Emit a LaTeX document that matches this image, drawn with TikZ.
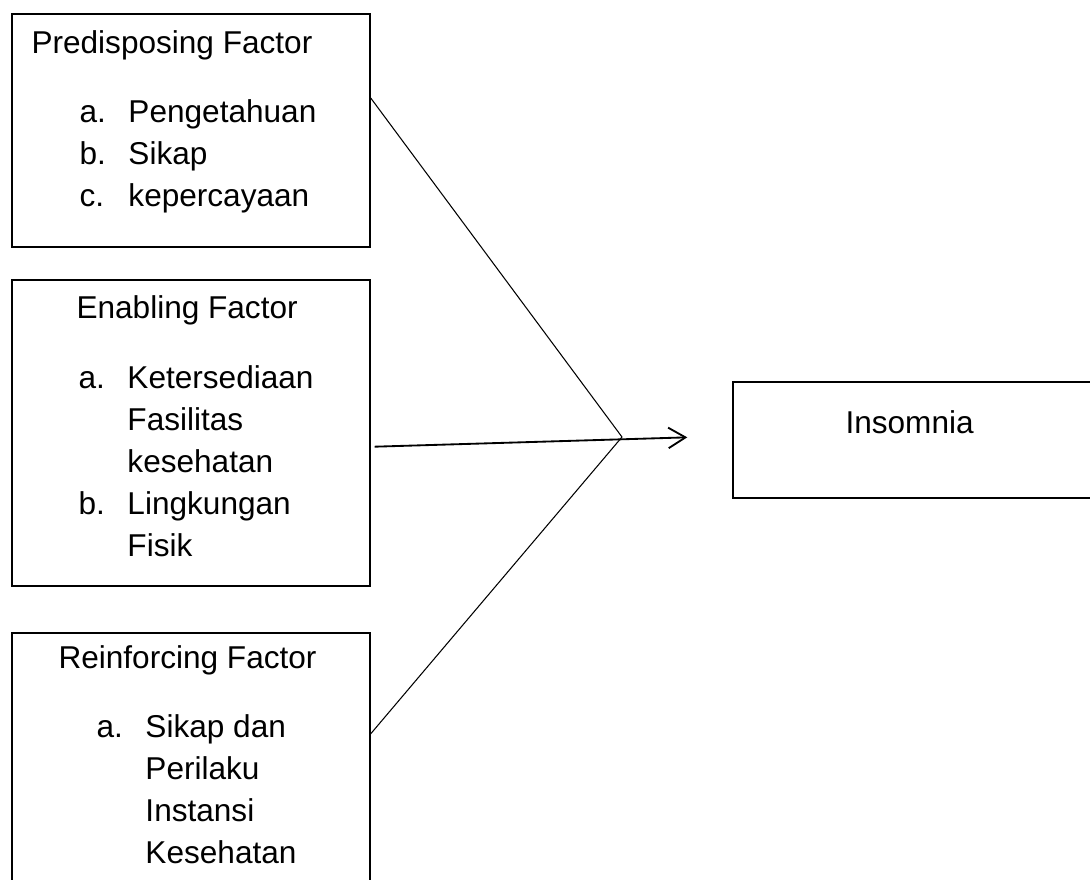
\documentclass[tikz,border=0pt]{standalone}
\usepackage{fontspec}
\setmainfont{Liberation Sans}
\usetikzlibrary{positioning,arrows.meta}

\newcommand{\factoritems}[1]{\begin{tabular}[t]{@{}p{18.6pt}@{}l@{}}#1\end{tabular}}

\begin{document}
\begin{tikzpicture}[x=0.38pt, y=-0.38pt,
    factor/.style={draw, line width=0.7pt, minimum width=136pt, anchor=north west},
    heading/.style={inner sep=0pt, anchor=base west, font=\fontsize{12}{16}\selectfont},
    thinline/.style={line width=0.4pt},
    arrowline/.style={line width=0.7pt, -{Straight Barb[length=6.5pt,width=7.8pt]}}]
    \useasboundingbox (0,0) rectangle (1090,879);
    \clip (0,0) rectangle (1090,879);

    % boxes on the left
    \node (predisposing) [factor, minimum height=88.5pt] at (11,13) {};
    \node (enabling) [factor, below=11.8pt of predisposing, minimum height=116.3pt] {};
    \node (reinforcing) [factor, below=17.1pt of enabling, minimum height=110pt] {};
    \node (insomnia) [factor, minimum width=136.8pt, minimum height=44.1pt] at (732,381) {};

    % texts
    \node (predisposing-title) [heading] at (31,53) {Predisposing Factor};
    \node (predisposing-list) [heading] at (79,122) {\factoritems{a. & Pengetahuan\\ b. & Sikap\\ c. & kepercayaan}};
    \node (enabling-title) [heading] at (76,318) {Enabling Factor};
    \node (enabling-list) [heading] at (78,388) {\factoritems{a. & Ketersediaan\\ & Fasilitas\\ & kesehatan\\ b. & Lingkungan\\ & Fisik}};
    \node (reinforcing-title) [heading] at (58,668) {Reinforcing Factor};
    \node (reinforcing-list) [heading] at (96,737) {\factoritems{a. & Sikap dan\\ & Perilaku\\ & Instansi\\ & Kesehatan}};
    \node (insomnia-title) [heading] at (845,433) {Insomnia};

    \coordinate (hub) at (622,437);

    \draw [thinline] ([yshift=-32.3pt]predisposing.north east) -- (hub);
    \draw [thinline] ([yshift=-38.8pt]reinforcing.north east) -- (hub);
    \draw [arrowline, shorten >=17pt] ([xshift=1.5pt,yshift=-63.8pt]enabling.north east) -- ([yshift=1.5pt]insomnia.west);
\end{tikzpicture}
\end{document}
